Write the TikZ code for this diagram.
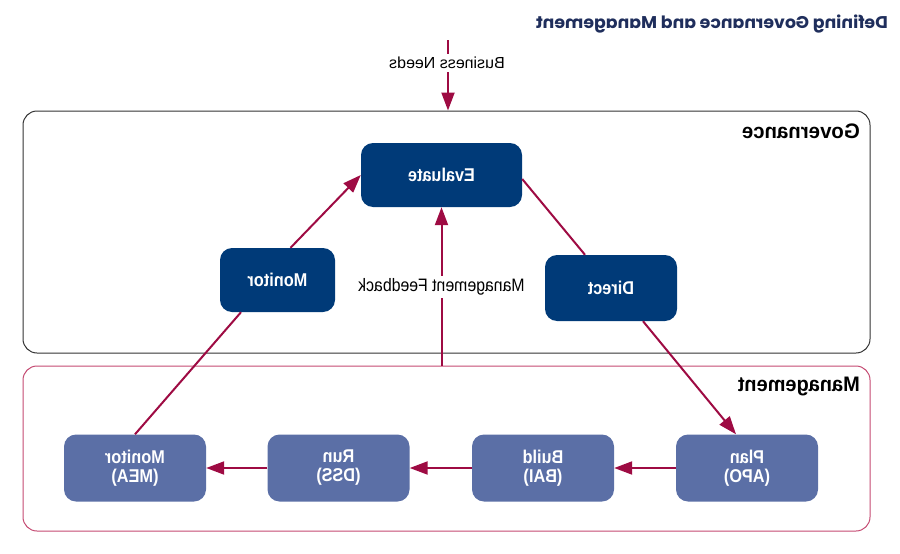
\documentclass[tikz,border=0pt]{standalone}
\usepackage{fontspec}
\setmainfont{Liberation Sans}
\newfontfamily\titlefont{Poppins}
\usetikzlibrary{arrows.meta,calc}
\definecolor{navy}{HTML}{003A78}
\definecolor{steel}{HTML}{5B6FA6}
\definecolor{crim}{HTML}{9E0B43}
\definecolor{mgbd}{HTML}{C44A72}
\definecolor{ttl}{HTML}{1F2E5C}
\newcommand{\mir}[2][0.88]{\scalebox{-#1}[1]{#2}}
\begin{document}
\begin{tikzpicture}[x=1pt,y=-1pt,
 govbox/.style={draw=black!80, line width=1pt, rounded corners=14pt, minimum width=847pt, minimum height=242pt, inner sep=0pt},
 mgbox/.style={draw=mgbd, line width=1pt, rounded corners=14pt, minimum width=847pt, minimum height=165pt, inner sep=0pt},
 gnode/.style={fill=navy, text=white, rounded corners=12pt, minimum height=64pt, inner sep=0pt, font=\bfseries\fontsize{18.5}{19}\selectfont, align=center},
 mnode/.style={fill=steel, text=white, rounded corners=12pt, minimum width=142pt, minimum height=67pt, inner sep=0pt, font=\bfseries\fontsize{18.5}{19}\selectfont, align=center},
 flow/.style={draw=crim, line width=2pt},
 arr/.style={flow, -{Triangle[length=18pt,width=13pt]}},
 lbl/.style={fill=white, inner xsep=2pt, inner ysep=3pt, font=\fontsize{18}{20}\selectfont},
 sect/.style={font=\bfseries\fontsize{21}{22}\selectfont, anchor=east, inner sep=0pt}]
\useasboundingbox (0,0) rectangle (900,554);

\node[govbox] (gov) at (446.5,232) {};
\node[mgbox] (mgt) at (446.5,448.5) {};
\node[sect] (govl) at (860,131) {\mir[0.97]{Governance}};
\node[sect] (mgtl) at (860,386) {\mir[0.95]{Management}};
\node[anchor=east, inner sep=0pt, text=ttl, font=\titlefont\bfseries\fontsize{17}{20}\selectfont] (title) at (888,24) {\mir[1.02]{Defining Governance and Management}};

\node[gnode, minimum width=161pt] (eval) at (441.5,175) {\mir{Evaluate}};
\node[gnode, minimum width=115pt] (mong) at (277.5,280) {\mir{Monitor}};
\node[gnode, minimum width=132pt, minimum height=66pt] (dir) at (611,288) {\mir{Direct}};
\node[mnode] (mea) at (135,468) {\mir{Monitor}\\\mir{(MEA)}};
\node[mnode] (dss) at (338.5,468) {\mir{Run}\\\mir{(DSS)}};
\node[mnode] (bai) at (543,468) {\mir{Build}\\\mir{(BAI)}};
\node[mnode] (apo) at (747,468) {\mir{Plan}\\\mir{(APO)}};

\coordinate (bntop) at (448,40);
\draw[arr] (bntop) -- (bntop |- gov.north);
\draw[arr] (eval.south |- mgt.north) -- (eval.south);
\draw[flow] (mea.north) -- ($(mong.south)+(-36.5,0)$);
\draw[arr] ($(mong.north)+(13,0)$) -- (eval.west);
\draw[flow] ($(eval.east)+(0,4)$) -- ($(dir.north)+(-26,0)$);
\draw[arr] ($(dir.south)+(32,0)$) -- ($(apo.north)+(-11,0)$);
\draw[arr] (apo.west) -- (bai.east);
\draw[arr] (bai.west) -- (dss.east);
\draw[arr] (dss.west) -- (mea.east);

\node[lbl, font=\fontsize{16}{18}\selectfont] (bn) at (447,63) {\mir[1.0]{Business Needs}};
\node[lbl] (mf) at (441.5,287) {\mir{Management Feedback}};
\end{tikzpicture}
\end{document}
